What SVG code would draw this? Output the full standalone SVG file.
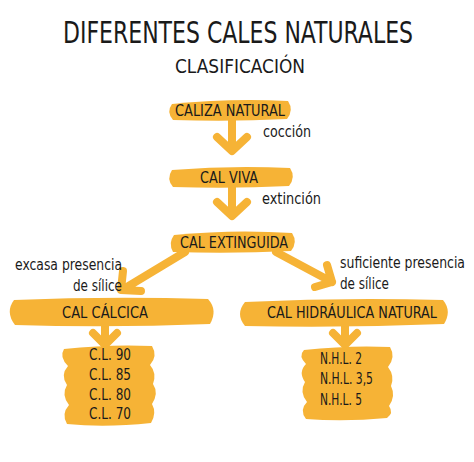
<svg xmlns="http://www.w3.org/2000/svg" width="474" height="462" viewBox="0 0 474 462">
<style>
.t{font-family:"Liberation Sans Narrow","DejaVu Sans Condensed","Liberation Sans",sans-serif;fill:#1a1a1a}
.bar{fill:#F6B336}
.ln{fill:none;stroke:#F6B336;stroke-width:8;stroke-linecap:round;stroke-linejoin:round}
</style>
<rect width="474" height="462" fill="#ffffff"/>
<text class="t" x="238" y="43" font-size="30" text-anchor="middle" textLength="350" lengthAdjust="spacingAndGlyphs">DIFERENTES CALES NATURALES</text>
<text class="t" x="240" y="73" font-size="20" text-anchor="middle" textLength="130" lengthAdjust="spacingAndGlyphs">CLASIFICACIÓN</text>

<g id="connectors">
<path class="ln" d="M232 120 V150 M217 137 L232 151 L247 137"/>
<path class="ln" d="M232 187 V215 M217 202 L232 216 L247 202"/>
<path class="ln" d="M185 252 L122 290 M123 271 L121 290 L141 291"/>
<path class="ln" d="M276 252 L332 282 M327 265 L332 282 L315 287"/>
<path class="ln" d="M105 325 V344 M93 333 L105 345 L117 333"/>
<path class="ln" d="M345 326 V344 M333 333 L345 345 L357 333"/>
</g>

<g id="caliza">
<path class="bar" d="M172 104 Q230 98 288 101 Q294 110 287 119 Q230 122 173 120 Q166 112 172 104Z"/>
<text class="t" x="230" y="116" font-size="16" text-anchor="middle" textLength="110" lengthAdjust="spacingAndGlyphs">CALIZA NATURAL</text>
</g>
<text class="t" x="263" y="137" font-size="16" textLength="48" lengthAdjust="spacingAndGlyphs">cocción</text>

<g id="calviva">
<path class="bar" d="M172 170 Q232 165 290 168 Q296 177 289 186 Q232 189 173 187 Q166 179 172 170Z"/>
<text class="t" x="229" y="183" font-size="16" text-anchor="middle" textLength="58" lengthAdjust="spacingAndGlyphs">CAL VIVA</text>
</g>
<text class="t" x="262" y="204" font-size="16" textLength="59" lengthAdjust="spacingAndGlyphs">extinción</text>

<g id="calextinguida">
<path class="bar" d="M174 235 Q234 229 292 233 Q298 242 291 251 Q232 254 173 252 Q168 243 174 235Z"/>
<text class="t" x="234" y="248" font-size="16" text-anchor="middle" textLength="108" lengthAdjust="spacingAndGlyphs">CAL EXTINGUIDA</text>
</g>
<text class="t" x="122" y="270" font-size="16" text-anchor="end" textLength="107" lengthAdjust="spacingAndGlyphs">excasa presencia</text>
<text class="t" x="122" y="291" font-size="16" text-anchor="end" textLength="49" lengthAdjust="spacingAndGlyphs">de sílice</text>
<text class="t" x="340" y="268" font-size="16" textLength="125" lengthAdjust="spacingAndGlyphs">suficiente presencia</text>
<text class="t" x="340" y="289" font-size="16" textLength="49" lengthAdjust="spacingAndGlyphs">de sílice</text>

<g id="calcalcica">
<path class="bar" d="M14 300 Q110 296 208 299 Q218 310 210 324 Q110 328 15 325 Q5 312 14 300Z"/>
<text class="t" x="105" y="318" font-size="16" text-anchor="middle" textLength="86" lengthAdjust="spacingAndGlyphs">CAL CÁLCICA</text>
</g>

<g id="calhidraulica">
<path class="bar" d="M245 302 Q345 297 443 300 Q452 311 444 324 Q345 328 245 326 Q235 314 245 302Z"/>
<text class="t" x="352" y="318" font-size="16" text-anchor="middle" textLength="170" lengthAdjust="spacingAndGlyphs">CAL HIDRÁULICA NATURAL</text>
</g>

<g id="cl">
<path class="bar" d="M64 349 Q110 344 152 346 Q158 356 150 365 Q157 373 153 384 Q159 393 152 404 Q157 413 151 423 Q105 428 67 424 Q61 414 69 405 Q61 395 67 385 Q60 375 68 366 Q59 357 64 349Z"/>
<text class="t" x="89" y="360" font-size="16" textLength="42" lengthAdjust="spacingAndGlyphs">C.L. 90</text>
<text class="t" x="89" y="380" font-size="16" textLength="42" lengthAdjust="spacingAndGlyphs">C.L. 85</text>
<text class="t" x="89" y="400" font-size="16" textLength="42" lengthAdjust="spacingAndGlyphs">C.L. 80</text>
<text class="t" x="89" y="419" font-size="16" textLength="42" lengthAdjust="spacingAndGlyphs">C.L. 70</text>
</g>

<g id="nhl">
<path class="bar" d="M304 350 Q350 345 390 347 Q396 357 388 367 Q395 376 391 386 Q396 396 389 406 Q394 413 387 418 Q345 422 306 419 Q299 410 307 402 Q299 392 305 382 Q298 372 306 364 Q298 356 304 350Z"/>
<text class="t" x="320" y="364" font-size="16" textLength="42" lengthAdjust="spacingAndGlyphs">N.H.L. 2</text>
<text class="t" x="320" y="384" font-size="16" textLength="53" lengthAdjust="spacingAndGlyphs">N.H.L. 3,5</text>
<text class="t" x="320" y="405" font-size="16" textLength="42" lengthAdjust="spacingAndGlyphs">N.H.L. 5</text>
</g>
</svg>
